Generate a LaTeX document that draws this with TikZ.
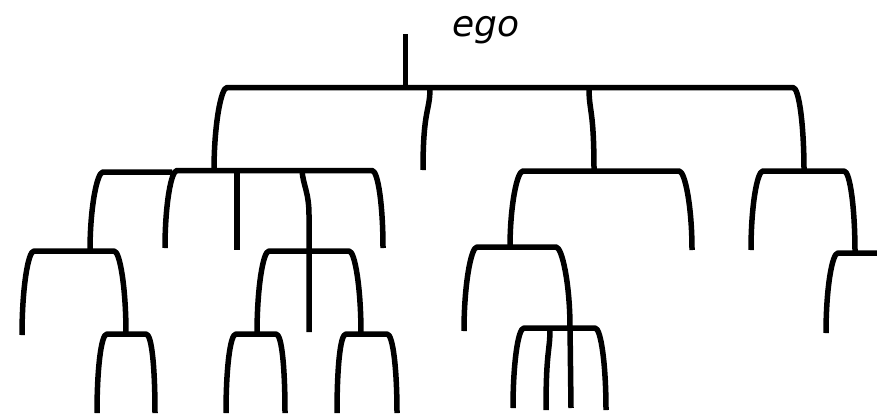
\documentclass[tikz,border=0pt]{standalone}
\usepackage{fontspec}
\setmainfont{DejaVu Sans}
\usetikzlibrary{calc}
\tikzset{
  kin/.style={line width=5.5pt, line join=round, line cap=butt, draw=black},
  egotext/.style={font=\fontsize{36}{40}\selectfont\itshape, anchor=base, inner sep=0pt}
}
% bracket: left bottom (#1,#2), left corner x #3, bar y #4, right corner x #5, right bottom (#6,#7)
\newcommand{\kinbracket}[7]{%
  \draw[kin] (#1,#2) .. controls ($(#1,#2)!0.55!(#1,#4)$) and (#3,#4) .. ($(#3,#4)+(6,0)$)
    -- ($(#5,#4)+(-6,0)$) .. controls (#5,#4) and ($(#6,#7)!0.55!(#6,#4)$) .. (#6,#7);}
% middle leg from (#1,#2) on a bar to (#3,#4)
\newcommand{\kinleg}[4]{%
  \draw[kin] (#1,#2) .. controls ($(#1,#2)!0.3!(#1,#4)$) and ($(#3,#4)!0.75!(#3,#2)$) .. (#3,#4);}
\begin{document}
\begin{tikzpicture}[x=1pt,y=-1pt]
\useasboundingbox (0,0) rectangle (877,415);
\fill[white] (0,0) rectangle (877,415);

\node[egotext] (ego) at (486,36) {ego};

% root stem
\coordinate (root) at (405.5,34);
\coordinate (rootbar) at (405.5,87.5);
\draw[kin] (root) -- (rootbar);

% level 1
\kinbracket{214}{171}{221}{87.5}{799}{804}{171}
\kinleg{430}{87.5}{423}{170}
\kinleg{589}{87.5}{594}{171}

% level 2, left group
\draw[kin] (90,251) .. controls ($(90,251)!0.55!(90,172)$) and (97,172) .. (103,172) -- (172,172);
\kinbracket{165}{248}{171}{170.5}{378}{383}{248}
\draw[kin] (237,170.5) -- (237,250);
\draw[kin] (302,170.5) .. controls (303,185) and (309,192) .. (309,215) -- (309,332);

% level 3, left
\kinbracket{22}{335}{28}{251}{120}{126}{334}
\kinbracket{257}{334}{263}{251}{355}{361}{334}
% level 4, left
\kinbracket{97}{413}{101}{334}{152}{155}{413}
\kinbracket{226}{413}{230}{334}{282}{285}{413}
\kinbracket{337}{413}{340}{334}{393}{397}{413}

% level 2, right
\kinbracket{510}{248}{517}{171}{685}{692}{250}
\kinbracket{751}{250}{757}{171}{850}{855}{253}

% level 3, right
\kinbracket{464}{331}{471}{247}{562}{570}{328}
\draw[kin] (570,326) -- (571,408);
\draw[kin] (826,333) .. controls ($(826,333)!0.55!(826,253)$) and (832,253) .. (838,253) -- (885,253);

% level 4, right
\kinbracket{513}{408}{518}{328}{601}{606}{410}
\kinleg{550}{328}{546}{410}
\end{tikzpicture}
\end{document}
